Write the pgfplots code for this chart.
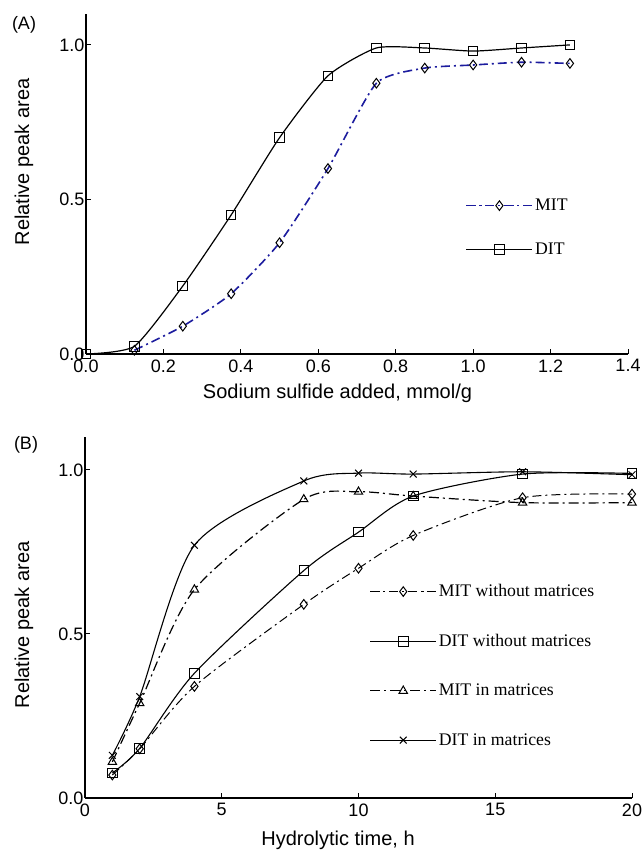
\documentclass[border=0pt]{standalone}
\usepackage{fontspec}
\setmainfont{Liberation Serif}
\newfontfamily\arial{Liberation Sans}
\usepackage{pgfplots}
\pgfplotsset{compat=1.18}

\definecolor{mitblue}{RGB}{28,28,158}

\pgfplotsset{
  panel/.style={
    scale only axis,
    axis x line=bottom, axis y line=left,
    axis line style={-, line width=1.2pt},
    tick align=inside,
    major tick length=5pt,
    tick style={black, line width=1pt},
    ymin=0, ymax=1.1,
    ytick={0,0.5,1},
    clip=false,
    /pgf/number format/assume math mode=true,
    ticklabel style={font=\arial\fontsize{18}{18}\selectfont},
    xticklabel style={yshift=-2pt},
    yticklabel style={xshift=2pt,/pgf/number format/.cd,fixed,fixed zerofill,precision=1},
    legend style={draw=none, fill=none, inner sep=0pt,
      nodes={inner sep=2pt},
      font=\fontsize{17.7}{18}\selectfont, legend cell align=left},
    legend image code/.code={\draw[mark repeat=2,mark phase=2,##1]
      plot coordinates {(0pt,0pt)(33pt,0pt)(66pt,0pt)};},
  },
  mk/.style={mark options={solid, fill=white, draw=black, line width=1pt}, mark size=4.8pt},
  dashdot/.style={dash pattern=on 9pt off 4pt on 2pt off 4pt},
  mitA/.style={draw=mitblue, color=mitblue, line width=1.6pt, dashdot, mark=diamond, mk},
}

\begin{document}
\begin{tikzpicture}
\useasboundingbox (0,0) rectangle (644pt,851pt);

% (A) sodium sulfide
\begin{axis}[panel,
  at={(86pt,497pt)}, anchor=south west,
  width=542pt, height=340pt,
  xmin=0, xmax=1.4,
  xtick={0,0.2,0.4,0.6,0.8,1.0,1.2,1.4},
  xticklabel style={/pgf/number format/.cd,fixed,fixed zerofill,precision=1},
  legend style={at={(axis description cs:0.70,0.462)}, anchor=north west, row sep=27pt},
]
\addplot[mitA, smooth, tension=0.35] coordinates {
(0.125,0.012)(0.25,0.09)(0.375,0.195)(0.5,0.36)(0.625,0.60)(0.75,0.876)
(0.875,0.925)(1.0,0.935)(1.125,0.944)(1.25,0.94)};
\addlegendentry{MIT}
\addplot[black, line width=1.2pt, smooth, tension=0.35, mark=square, mk] coordinates {
(0,0)(0.125,0.025)(0.25,0.22)(0.375,0.45)(0.5,0.70)(0.625,0.90)(0.75,0.99)
(0.875,0.99)(1.0,0.98)(1.125,0.99)(1.25,1.0)};
\addlegendentry{DIT}
\end{axis}

% (B) hydrolytic time
\begin{axis}[panel,
  at={(85pt,53pt)}, anchor=south west,
  width=547pt, height=361pt,
  xmin=0, xmax=20,
  xtick={0,5,10,15,20},
  legend style={at={(axis description cs:0.52,0.597)}, anchor=north west, row sep=32pt},
]
\addplot[black, line width=1pt, dashdot, smooth, tension=0.45, mark=diamond, mk] coordinates {
(1,0.07)(2,0.15)(4,0.34)(8,0.59)(10,0.70)(12,0.80)(16,0.915)(20,0.926)};
\addplot[black, line width=1.1pt, smooth, tension=0.45, mark=square, mk] coordinates {
(1,0.076)(2,0.151)(4,0.38)(8,0.693)(10,0.81)(12,0.92)(16,0.987)(20,0.989)};
\addplot[black, line width=1.2pt, dash pattern=on 10pt off 4pt on 2pt off 4pt, smooth, tension=0.45, mark=triangle, mk] coordinates {
(1,0.11)(2,0.289)(4,0.635)(8,0.91)(10,0.933)(12,0.92)(16,0.90)(20,0.90)};
\addplot[black, line width=1.1pt, smooth, tension=0.45, mark=x, mk] coordinates {
(1,0.13)(2,0.309)(4,0.77)(8,0.966)(10,0.99)(12,0.987)(16,0.994)(20,0.985)};
\legend{MIT without matrices,DIT without matrices,MIT in matrices,DIT in matrices}
\end{axis}

\node[font=\arial\fontsize{18}{18}\selectfont] at (24pt,826pt) {(A)};
\node[font=\arial\fontsize{18}{18}\selectfont] at (26pt,406pt) {(B)};
\node[font=\arial\fontsize{20}{20}\selectfont] at (337.5pt,458pt) {Sodium sulfide added, mmol/g};
\node[font=\arial\fontsize{20}{20}\selectfont, rotate=90] at (24pt,689pt) {Relative peak area};
\node[font=\arial\fontsize{20}{20}\selectfont] at (338pt,11pt) {Hydrolytic time, h};
\node[font=\arial\fontsize{20}{20}\selectfont, rotate=90] at (24pt,226pt) {Relative peak area};
\end{tikzpicture}
\end{document}
